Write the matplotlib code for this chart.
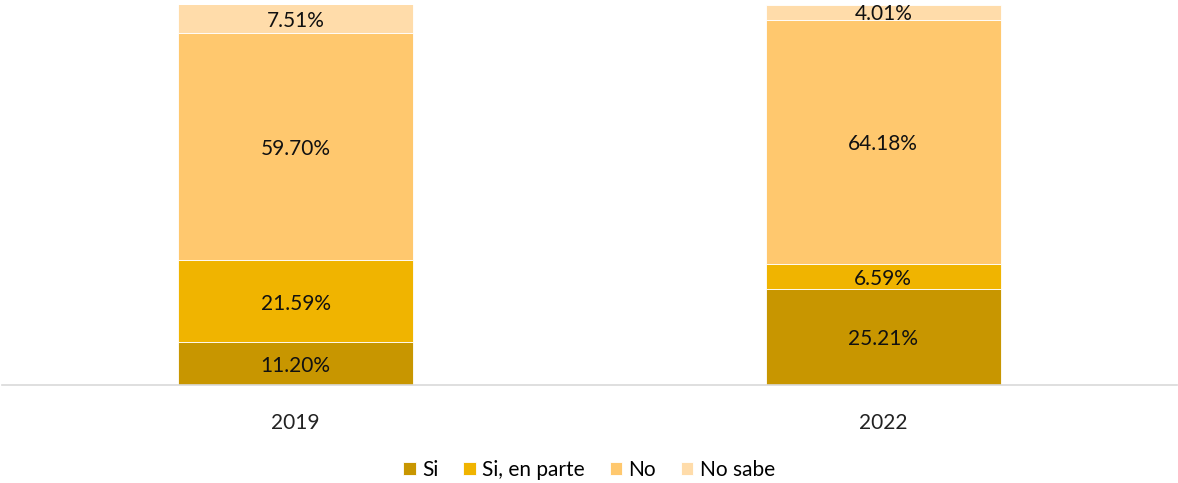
import matplotlib
matplotlib.use("Agg")
import matplotlib.pyplot as plt
import numpy as np

plt.rcParams['font.family'] = ['Lato', 'DejaVu Sans']

years = ["2019", "2022"]
series_names = ["Si", "Si, en parte", "No", "No sabe"]
si = [11.20, 25.21]
si_parte = [21.59, 6.59]
no = [59.70, 64.18]
no_sabe = [7.51, 4.01]
colors = ["#C89600", "#F0B400", "#FFC86E", "#FFDCAA"]

fig = plt.figure(figsize=(11.78, 4.83), dpi=100)
ax = fig.add_axes([2/1178, (483-385)/483, 1175/1178, 380.5/483])

x = np.arange(len(years))
bottom = np.zeros(len(years))
for name, vals, col in zip(series_names, [si, si_parte, no, no_sabe], colors):
    vals = np.array(vals)
    ax.bar(x, vals, width=0.4, bottom=bottom, color=col, label=name,
           edgecolor="white", linewidth=0.6)
    for xi, b, v in zip(x, bottom, vals):
        ax.text(xi, b + v/2 - 0.6, f"{v:.2f}%", ha="center", va="center",
                fontsize=15, color="#111111")
    bottom += vals

ax.set_xlim(-0.5, 1.5)
ax.set_ylim(0, 100)
ax.set_xticks(x)
ax.set_xticklabels(years, fontsize=15, color="#222222")
ax.tick_params(axis="x", length=0, pad=20)
ax.set_yticks([])
for s in ["top", "right", "left"]:
    ax.spines[s].set_visible(False)
ax.spines["bottom"].set_color("#D9D9D9")
ax.spines["bottom"].set_linewidth(1.2)

fig.legend(loc="center", bbox_to_anchor=(0.5, (483-470)/483), ncol=4,
           frameon=False, fontsize=15, handlelength=0.6, handleheight=0.6,
           handletextpad=0.3, columnspacing=1.2)

fig.savefig("out.png", dpi=100)
